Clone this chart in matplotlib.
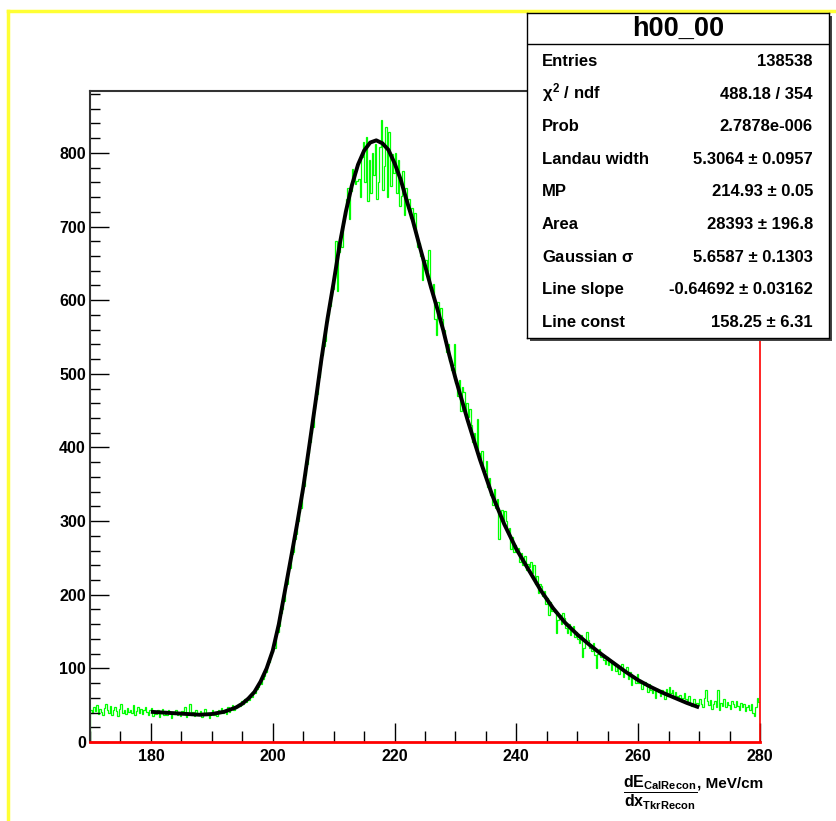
import matplotlib
matplotlib.use("Agg")
import numpy as np
import matplotlib.pyplot as plt
from matplotlib.lines import Line2D
from matplotlib.patches import Rectangle
from matplotlib.ticker import MultipleLocator

plt.rcParams['font.family'] = ['Liberation Sans', 'DejaVu Sans']
plt.rcParams['font.weight'] = 'bold'
plt.rcParams['mathtext.fontset'] = 'custom'
plt.rcParams['mathtext.rm'] = 'Liberation Sans:bold'
plt.rcParams['mathtext.it'] = 'Liberation Sans:bold'
plt.rcParams['mathtext.bf'] = 'Liberation Sans:bold'

# histogram: 440 bins of 0.25 from 170 to 280 (counts)
x_start = 170.0
bin_width = 0.25
counts = [
    44, 39, 47, 42, 50, 38, 45, 41,
    36, 46, 52, 43, 40, 49, 37, 44,
    48, 42, 35, 45, 51, 40, 43, 38,
    46, 41, 44, 39, 50, 36, 42, 47,
    40, 45, 38, 43, 48, 41, 37, 44,
    46, 35, 41, 38, 43, 34, 40, 45,
    37, 42, 36, 44, 39, 33, 41, 38,
    43, 36, 40, 35, 42, 38, 47, 34,
    39, 52, 37, 41, 35, 43, 38, 36,
    42, 34, 39, 45, 36, 40, 33, 38,
    44, 37, 41, 35, 43, 39, 46, 40,
    43, 38, 47, 41, 45, 50, 44, 48,
    47, 52, 49, 55, 51, 58, 54, 60,
    57, 63, 61, 68, 66, 72, 75, 80,
    79, 86, 90, 95, 104, 108, 116, 122,
    130, 128, 146, 150, 158, 175, 180, 192,
    210, 214, 232, 236, 255, 258, 276, 282,
    300, 312, 318, 338, 348, 362, 378, 392,
    408, 420, 428, 452, 466, 472, 495, 512,
    526, 538, 545, 572, 580, 592, 606, 615,
    630, 680, 612, 665, 688, 672, 705, 716,
    738, 752, 710, 748, 778, 772, 758, 762,
    765, 740, 795, 815, 760, 822, 735, 790,
    745, 800, 770, 812, 738, 760, 808, 844,
    750, 782, 835, 740, 828, 755, 798, 772,
    800, 745, 790, 728, 742, 775, 716, 752,
    728, 738, 712, 725, 700, 718, 690, 672,
    678, 660, 628, 648, 655, 640, 668, 622,
    612, 622, 575, 552, 598, 580, 590, 575,
    560, 545, 530, 540, 518, 505, 512, 540,
    488, 470, 492, 450, 482, 475, 448, 460,
    442, 452, 430, 408, 420, 400, 438, 392,
    384, 395, 372, 368, 381, 346, 358, 335,
    322, 343, 318, 330, 275, 308, 315, 298,
    314, 300, 285, 290, 262, 278, 258, 268,
    258, 264, 245, 256, 240, 252, 234, 242,
    238, 245, 230, 240, 214, 226, 202, 215,
    212, 198, 205, 188, 196, 172, 190, 178,
    180, 176, 148, 165, 172, 160, 175, 168,
    155, 148, 160, 145, 152, 157, 142, 150,
    140, 134, 145, 115, 128, 136, 150, 138,
    128, 124, 135, 118, 100, 120, 126, 115,
    118, 112, 106, 115, 104, 110, 98, 108,
    104, 96, 100, 92, 98, 106, 88, 95,
    102, 86, 95, 78, 90, 88, 80, 92,
    80, 84, 72, 78, 82, 76, 68, 79,
    70, 66, 74, 60, 72, 68, 62, 70,
    65, 58, 72, 62, 75, 66, 70, 60,
    68, 62, 58, 64, 55, 60, 66, 58,
    55, 62, 52, 49, 58, 47, 53, 50,
    58, 52, 48, 60, 70, 55, 50, 57,
    45, 52, 55, 48, 70, 44, 53, 49,
    58, 47, 54, 50, 45, 56, 52, 48,
    55, 49, 44, 53, 47, 51, 42, 48,
    50, 44, 52, 40, 35, 47, 60, 54,
]
edges = x_start + bin_width * np.arange(len(counts) + 1)

# fitted curve (Landau x Gauss + line)
fit_x = [180, 182, 184, 186, 188, 190, 192, 194, 195, 196, 197, 198, 199, 200,
         201, 202, 203, 204, 205, 206, 207, 208, 209, 210, 211, 212, 213, 214,
         215, 216, 217, 218, 219, 220, 221, 222, 223, 224, 225, 226, 227, 228,
         229, 230, 232, 234, 236, 238, 240, 242, 244, 246, 248, 250, 252, 254,
         256, 258, 260, 262, 264, 266, 268, 270]
fit_y = [41, 40, 39, 38, 37, 38, 41, 47, 52, 59, 68, 82, 100, 124,
         160, 205, 250, 296, 345, 402, 460, 520, 575, 624, 676, 720, 756, 784,
         803, 814, 817, 813, 804, 786, 764, 735, 708, 677, 647, 617, 589, 559,
         525, 494, 437, 384, 336, 296, 262, 234, 206, 182, 162, 146, 132, 119,
         107, 95, 84, 75, 67, 60, 53, 47]

x_ticks = [180, 200, 220, 240, 260, 280]
y_ticks = [0, 100, 200, 300, 400, 500, 600, 700, 800]

stat_labels = ['Entries', r'$\chi^{2}$ / ndf', 'Prob', 'Landau width', 'MP', 'Area',
               r'Gaussian $\sigma$', 'Line slope', 'Line const']
stat_values = ['138538', '488.18 / 354', '2.7878e-006', '5.3064 \u00b1 0.0957',
               '214.93 \u00b1 0.05', '28393 \u00b1 196.8', '5.6587 \u00b1 0.1303',
               '-0.64692 \u00b1 0.03162', '158.25 \u00b1 6.31']

W, H = 836, 821
fig = plt.figure(figsize=(W / 100, H / 100), dpi=100)

ax = fig.add_axes([90 / W, 1 - 742 / H, 670 / W, 651 / H])
ax.stairs(counts, edges, color='#00ff00', lw=0.9)
ax.plot(fit_x, fit_y, color='black', lw=2.8, solid_capstyle='butt')

ax.set_xlim(170, 280)
ax.set_ylim(0, 884)
ax.set_xticks(x_ticks)
ax.set_yticks(y_ticks)
ax.xaxis.set_minor_locator(MultipleLocator(5))
ax.yaxis.set_minor_locator(MultipleLocator(20))
ax.tick_params(which='both', direction='in', top=False, right=False,
               labelsize=11.5, width=1)
ax.tick_params(axis='x', which='major', length=13.5, pad=5)
ax.tick_params(axis='x', which='minor', length=8)
ax.tick_params(axis='y', which='major', length=14, pad=3)
ax.tick_params(axis='y', which='minor', length=7)
for lab in ax.get_xticklabels() + ax.get_yticklabels():
    lab.set_fontweight('bold')

ax.spines['left'].set_color('#333333')
ax.spines['top'].set_color('#333333')
ax.spines['left'].set_linewidth(1.5)
ax.spines['top'].set_linewidth(1.5)
ax.spines['bottom'].set_color('red')
ax.spines['bottom'].set_linewidth(2)
ax.spines['right'].set_color('red')
ax.spines['right'].set_linewidth(1.2)

# x-axis title
fig.text(660 / W, 1 - 793 / H, r'$\dfrac{dE_{CalRecon}}{dx_{TkrRecon}}$',
         ha='center', va='center', fontsize=11.5)
fig.text(697 / W, 1 - 787 / H, ', MeV/cm', ha='left', va='baseline',
         fontsize=11, fontweight='bold')

# yellow canvas frame
fig.add_artist(Line2D([8 / W, 8 / W], [0, 1 - 11 / H], color='#ffff33', lw=2.5))
fig.add_artist(Line2D([8 / W, 1], [1 - 11 / H, 1 - 11 / H], color='#ffff33', lw=2.5))

# stats box with shadow
fig.add_artist(Rectangle((530 / W, 1 - 341 / H), 302 / W, 325 / H,
                         transform=fig.transFigure, facecolor='#444444',
                         edgecolor='none', zorder=4))
bx = fig.add_axes([527 / W, 1 - 338 / H, 302 / W, 325 / H], zorder=5)
bx.set_xlim(527, 829)
bx.set_ylim(338, 13)
bx.set_xticks([])
bx.set_yticks([])
for sp in bx.spines.values():
    sp.set_color('black')
    sp.set_linewidth(1)
bx.axhline(44, color='black', lw=1)
bx.text(678, 29, 'h00_00', ha='center', va='center', fontsize=19.5,
        fontweight='bold')
for i, (lab, val) in enumerate(zip(stat_labels, stat_values)):
    yb = 66 + i * 32.6
    bx.text(542, yb, lab, ha='left', va='baseline', fontsize=12, fontweight='bold')
    bx.text(813, yb, val, ha='right', va='baseline', fontsize=12, fontweight='bold')

fig.savefig('out.png', dpi=100)
